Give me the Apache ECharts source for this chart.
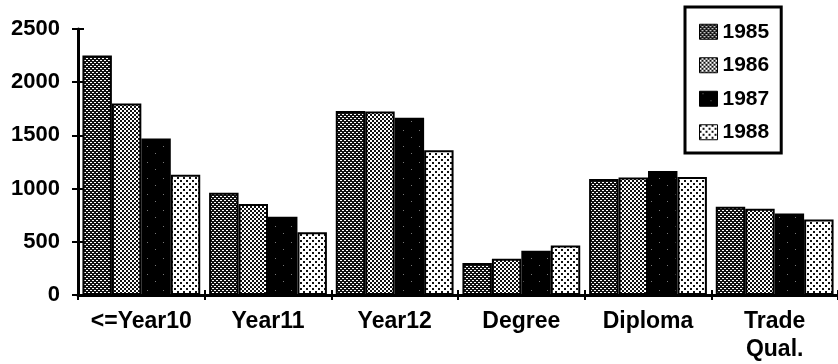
<!DOCTYPE html>
<html>
<head>
<meta charset="utf-8">
<style>
  html, body { margin: 0; padding: 0; background: #fff; }
  #chart { width: 838px; height: 364px; }
</style>
<script src="https://cdn.jsdelivr.net/npm/echarts@6/dist/echarts.min.js"></script>
</head>
<body>
<div id="chart"></div>
<script>
// Enrolments by highest qualification, 1985-1988
const categories = ['<=Year10', 'Year11', 'Year12', 'Degree', 'Diploma', 'Trade\nQual.'];
const years = ['1985', '1986', '1987', '1988'];
const values1985 = [2250, 960, 1730, 300, 1090, 830];
const values1986 = [1800, 855, 1725, 340, 1105, 810];
const values1987 = [1470, 735, 1665, 415, 1165, 765];
const values1988 = [1130, 590, 1360, 465, 1110, 710];
const yTicks = [0, 500, 1000, 1500, 2000, 2500];

// Small bitmap fills for the halftone look of each year
function makePattern(size, bg, fg, cells) {
  const c = document.createElement('canvas');
  c.width = size; c.height = size;
  const g = c.getContext('2d');
  g.fillStyle = bg; g.fillRect(0, 0, size, size);
  g.fillStyle = fg;
  cells.forEach(([x, y, w, h]) => g.fillRect(x, y, w || 1, h || 1));
  return { image: c, repeat: 'repeat' };
}
const fills = [
  makePattern(4, '#111', '#fff', [[0, 0], [1, 0], [2, 2], [3, 2]]),
  makePattern(4, '#fff', '#111', [[0, 0, 2, 2], [2, 2, 2, 2]]),
  makePattern(16, '#000', '#777', [[3, 2], [11, 9]]),
  makePattern(6, '#fff', '#111', [[0, 0, 2, 2], [3, 3, 2, 2]])
];
const seriesValues = [values1985, values1986, values1987, values1988];

const FONT = 'Liberation Sans';
const chart = echarts.init(document.getElementById('chart'));
chart.setOption({
  animation: false,
  backgroundColor: '#fff',
  textStyle: { fontFamily: FONT, color: '#000' },
  grid: { left: 78, top: 29, width: 766, bottom: 68 },
  legend: {
    orient: 'vertical',
    left: 685, top: 7,
    padding: [14, 12, 10, 14],
    itemGap: 12,
    itemWidth: 18, itemHeight: 15,
    icon: 'rect',
    borderColor: '#000', borderWidth: 3,
    backgroundColor: '#fff',
    itemStyle: { borderColor: '#000', borderWidth: 1 },
    textStyle: { fontFamily: FONT, fontWeight: 'bold', fontSize: 21, color: '#000', lineHeight: 21.5 },
    data: years
  },
  xAxis: [{
    type: 'category',
    data: categories,
    position: 'bottom',
    axisLine: { lineStyle: { color: '#000', width: 3 } },
    axisTick: { show: true, alignWithLabel: false, length: 5, lineStyle: { color: '#000', width: 2 } },
    axisLabel: { fontFamily: FONT, fontWeight: 'bold', fontSize: 23, color: '#000', margin: 13, lineHeight: 28, interval: 0 }
  }, {
    type: 'category',
    data: categories,
    position: 'bottom',
    offset: 0,
    axisLine: { show: false },
    axisTick: { show: true, inside: true, length: 5, lineStyle: { color: '#000', width: 2 } },
    axisLabel: { show: false }
  }],
  yAxis: [{
    type: 'value',
    min: yTicks[0], max: yTicks[yTicks.length - 1], interval: 500,
    axisLine: { show: true, lineStyle: { color: '#000', width: 3 } },
    axisTick: { show: true, length: 6, lineStyle: { color: '#000', width: 2 } },
    splitLine: { show: false },
    axisLabel: { fontFamily: FONT, fontWeight: 'bold', fontSize: 22, color: '#000', margin: 18, formatter: v => String(v) }
  }, {
    type: 'value',
    position: 'left',
    offset: 0,
    min: yTicks[0], max: yTicks[yTicks.length - 1], interval: 500,
    axisLine: { show: false },
    axisTick: { show: true, inside: true, length: 6, lineStyle: { color: '#000', width: 2 } },
    splitLine: { show: false },
    axisLabel: { show: false }
  }],
  series: years.map((y, i) => ({
    name: y,
    type: 'bar',
    xAxisIndex: 0,
    yAxisIndex: 0,
    data: seriesValues[i],
    barGap: '0%',
    barCategoryGap: '7%',
    itemStyle: { color: fills[i], borderColor: '#000', borderWidth: 2 }
  }))
});
</script>
</body>
</html>
